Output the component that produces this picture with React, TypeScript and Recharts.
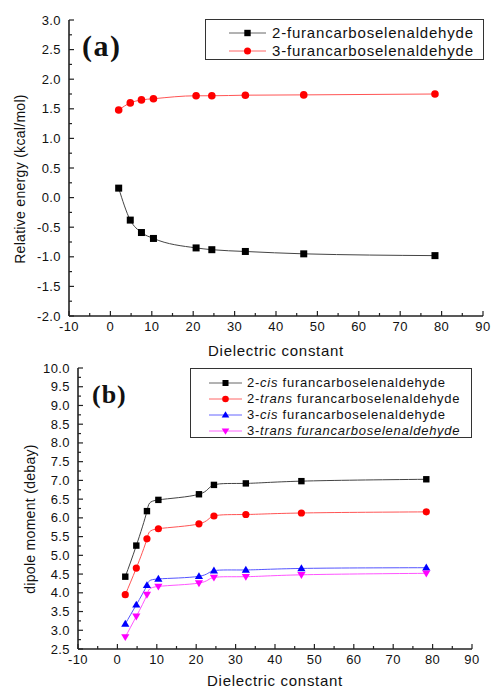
import React from "react";
import { LineChart, Line, XAxis, YAxis } from "recharts";

document.body.style.margin = "0";

// dielectric constants of the solvents (x)
const dielectric = [2.0, 4.8, 7.5, 10.4, 20.7, 24.5, 32.6, 46.7, 78.4];

// panel (a) relative energy, kcal/mol
const energy2 = [0.16, -0.38, -0.59, -0.69, -0.85, -0.88, -0.91, -0.95, -0.98];
const energy3 = [1.48, 1.6, 1.65, 1.67, 1.72, 1.72, 1.73, 1.735, 1.75];

// panel (b) dipole moment, debye
const dip2cis = [4.43, 5.26, 6.18, 6.48, 6.63, 6.88, 6.92, 6.98, 7.03];
const dip2trans = [3.95, 4.66, 5.44, 5.71, 5.84, 6.05, 6.09, 6.13, 6.16];
const dip3cis = [3.17, 3.68, 4.2, 4.37, 4.44, 4.59, 4.61, 4.65, 4.67];
const dip3trans = [2.82, 3.37, 3.95, 4.17, 4.26, 4.41, 4.43, 4.48, 4.52];

const xMajor = [-10, 0, 10, 20, 30, 40, 50, 60, 70, 80, 90];
const xTicks = [-10, -5, 0, 5, 10, 15, 20, 25, 30, 35, 40, 45, 50, 55, 60, 65, 70, 75, 80, 85, 90];
const yMajorA = [-2, -1.5, -1, -0.5, 0, 0.5, 1, 1.5, 2, 2.5, 3];
const yTicksA = [-2, -1.75, -1.5, -1.25, -1, -0.75, -0.5, -0.25, 0, 0.25, 0.5, 0.75, 1, 1.25, 1.5, 1.75, 2, 2.25, 2.5, 2.75, 3];
const yMajorB = [2.5, 3, 3.5, 4, 4.5, 5, 5.5, 6, 6.5, 7, 7.5, 8, 8.5, 9, 9.5, 10];
const yTicksB = [2.5, 2.75, 3, 3.25, 3.5, 3.75, 4, 4.25, 4.5, 4.75, 5, 5.25, 5.5, 5.75, 6, 6.25, 6.5, 6.75, 7, 7.25, 7.5, 7.75, 8, 8.25, 8.5, 8.75, 9, 9.25, 9.5, 9.75, 10];

const dataA = dielectric.map((x, i) => ({ x, e2: energy2[i], e3: energy3[i] }));
const dataB = dielectric.map((x, i) => ({
  x,
  c2: dip2cis[i],
  t2: dip2trans[i],
  c3: dip3cis[i],
  t3: dip3trans[i],
}));

const FONT = "'Liberation Sans', Arial, sans-serif";
const AXIS = "#222";
const TICK_FONT = 13;

function Marker({ shape, cx, cy, color, s = 3.5 }: any) {
  if (cx == null || cy == null) return null;
  if (shape === "square")
    return <rect x={cx - s} y={cy - s} width={2 * s} height={2 * s} fill={color} />;
  if (shape === "circle") return <circle cx={cx} cy={cy} r={s + 0.3} fill={color} />;
  if (shape === "up")
    return (
      <polygon
        points={`${cx},${cy - s - 0.8} ${cx - s - 0.8},${cy + s - 0.5} ${cx + s + 0.8},${cy + s - 0.5}`}
        fill={color}
      />
    );
  return (
    <polygon
      points={`${cx},${cy + s + 0.8} ${cx - s - 0.8},${cy - s + 0.5} ${cx + s + 0.8},${cy - s + 0.5}`}
      fill={color}
    />
  );
}

const dotFn = (shape: string, color: string, s: number) => (p: any) =>
  <Marker key={`d-${p.index}`} shape={shape} cx={p.cx} cy={p.cy} color={color} s={s} />;

function makeTick(side: string, major: number[], fmt: (v: number) => string) {
  return (p: any) => {
    const { x, y, payload } = p;
    const v = payload.value;
    const isMajor = major.some((m) => Math.abs(m - v) < 1e-6);
    const len = isMajor ? 5 : 3;
    if (side === "bottom")
      return (
        <g>
          <line x1={x} x2={x} y1={y} y2={y - len} stroke={AXIS} strokeWidth={1.2} />
          {isMajor && (
            <text x={x} y={y + 15} textAnchor="middle" fontSize={TICK_FONT} fontFamily={FONT} fill="#111" letterSpacing={0.4}>
              {fmt(v)}
            </text>
          )}
        </g>
      );
    if (side === "top")
      return <line x1={x} x2={x} y1={y} y2={y + len} stroke={AXIS} strokeWidth={1.2} />;
    if (side === "left")
      return (
        <g>
          <line x1={x} x2={x + len} y1={y} y2={y} stroke={AXIS} strokeWidth={1.2} />
          {isMajor && (
            <text x={x - 8} y={y + 4.5} textAnchor="end" fontSize={TICK_FONT} fontFamily={FONT} fill="#111" letterSpacing={0.4}>
              {fmt(v)}
            </text>
          )}
        </g>
      );
    return <line x1={x} x2={x - len} y1={y} y2={y} stroke={AXIS} strokeWidth={1.2} />;
  };
}

const fmtX = (v: number) => String(v);
const fmtY = (v: number) => v.toFixed(1);

function Frame({ yDomain, yTicks, yMajor, yWidth, xHeight }: any) {
  const axisLine = { stroke: AXIS, strokeWidth: 1.6 };
  return [
    <XAxis
      key="xb"
      dataKey="x"
      type="number"
      height={xHeight}
      domain={[-10, 90]}
      ticks={xTicks}
      interval={0}
      tickSize={0}
      tickMargin={0}
      tickLine={false}
      axisLine={axisLine}
      tick={makeTick("bottom", xMajor, fmtX)}
      allowDataOverflow
    />,
    <XAxis
      key="xt"
      xAxisId="top"
      orientation="top"
      dataKey="x"
      type="number"
      height={0}
      domain={[-10, 90]}
      ticks={xTicks}
      interval={0}
      tickSize={0}
      tickMargin={0}
      tickLine={false}
      axisLine={axisLine}
      tick={makeTick("top", xMajor, fmtX)}
      allowDataOverflow
    />,
    <YAxis
      key="yl"
      type="number"
      width={yWidth}
      domain={yDomain}
      ticks={yTicks}
      interval={0}
      tickSize={0}
      tickMargin={0}
      tickLine={false}
      axisLine={axisLine}
      tick={makeTick("left", yMajor, fmtY)}
      allowDataOverflow
    />,
    <YAxis
      key="yr"
      yAxisId="right"
      orientation="right"
      type="number"
      width={0}
      domain={yDomain}
      ticks={yTicks}
      interval={0}
      tickSize={0}
      tickMargin={0}
      tickLine={false}
      axisLine={axisLine}
      tick={makeTick("right", yMajor, fmtY)}
      allowDataOverflow
    />,
  ];
}

const abs = (left: number, top: number, extra: React.CSSProperties = {}): React.CSSProperties => ({
  position: "absolute",
  left,
  top,
  whiteSpace: "nowrap",
  fontFamily: FONT,
  color: "#111",
  ...extra,
});

function LegendRow({ shape, line, color, y, x0, x1, tx, s, size, ls, children }: any) {
  return (
    <div style={abs(0, y - 10, { height: 20, width: 300 })}>
      <svg width={x1 + 2} height={20} style={{ position: "absolute", left: 0, top: 0 }}>
        <line x1={x0} x2={x1} y1={10} y2={10} stroke={line} strokeWidth={1} />
        <Marker shape={shape} cx={(x0 + x1) / 2} cy={10} color={color} s={s} />
      </svg>
      <div
        style={{
          position: "absolute",
          left: tx,
          top: 0,
          lineHeight: "20px",
          fontSize: size,
          fontFamily: FONT,
          letterSpacing: ls,
        }}
      >
        {children}
      </div>
    </div>
  );
}

export default function App() {
  return (
    <div style={{ position: "relative", width: 491, height: 688, background: "#fff", overflow: "hidden" }}>
      {/* panel (a) */}
      <div style={{ position: "absolute", left: 0, top: 0 }}>
        <LineChart width={491} height={362} data={dataA} margin={{ top: 20, right: 8, bottom: 0, left: 0 }}>
          {Frame({ yDomain: [-2, 3], yTicks: yTicksA, yMajor: yMajorA, yWidth: 69, xHeight: 46 })}
          <Line
            type="monotone"
            dataKey="e2"
            stroke="#444"
            strokeWidth={1}
            dot={dotFn("square", "#000", 3.5)}
            isAnimationActive={false}
          />
          <Line
            type="monotone"
            dataKey="e3"
            stroke="#f55"
            strokeWidth={1}
            dot={dotFn("circle", "#f00", 3.5)}
            isAnimationActive={false}
          />
        </LineChart>
      </div>

      {/* panel (b) */}
      <div style={{ position: "absolute", left: 0, top: 362 }}>
        <LineChart width={491} height={326} data={dataB} margin={{ top: 6, right: 19, bottom: 0, left: 0 }}>
          {Frame({ yDomain: [2.5, 10], yTicks: yTicksB, yMajor: yMajorB, yWidth: 78, xHeight: 39 })}
          <Line type="natural" dataKey="c2" stroke="#444" strokeWidth={1} dot={dotFn("square", "#000", 3.2)} isAnimationActive={false} />
          <Line type="natural" dataKey="t2" stroke="#f55" strokeWidth={1} dot={dotFn("circle", "#f00", 3.3)} isAnimationActive={false} />
          <Line type="natural" dataKey="c3" stroke="#55f" strokeWidth={1} dot={dotFn("up", "#00f", 3.3)} isAnimationActive={false} />
          <Line type="natural" dataKey="t3" stroke="#f5f" strokeWidth={1} dot={dotFn("down", "#f0f", 3.3)} isAnimationActive={false} />
        </LineChart>
      </div>

      {/* axis titles */}
      <div style={abs(20, 179, { fontSize: 14, letterSpacing: 0.3, transform: "translate(-50%,-50%) rotate(-90deg)" })}>
        Relative energy (kcal/mol)
      </div>
      <div style={abs(276, 350, { fontSize: 15, letterSpacing: 0.7, transform: "translate(-50%,-50%)" })}>
        Dielectric constant
      </div>
      <div style={abs(30, 519, { fontSize: 14, letterSpacing: 0.3, transform: "translate(-50%,-50%) rotate(-90deg)" })}>
        dipole moment (debay)
      </div>
      <div style={abs(275, 680, { fontSize: 15, letterSpacing: 0.7, transform: "translate(-50%,-50%)" })}>
        Dielectric constant
      </div>

      {/* panel letters */}
      <div
        style={abs(82, 28, {
          fontSize: 30,
          fontWeight: "bold",
          letterSpacing: 1.5,
          fontFamily: "'Liberation Serif', 'Times New Roman', serif",
          lineHeight: "36px",
        })}
      >
        (a)
      </div>
      <div
        style={abs(92, 380, {
          fontSize: 26,
          fontWeight: "bold",
          letterSpacing: 1,
          fontFamily: "'Liberation Serif', 'Times New Roman', serif",
          lineHeight: "30px",
        })}
      >
        (b)
      </div>

      {/* legend (a) */}
      <div style={abs(205, 19, { width: 277, height: 39, border: "1px solid #333", background: "#fff" })}>
        <LegendRow shape="square" line="#666" color="#000" y={13} x0={23} x1={60} tx={66} s={3.2} size={15} ls={0.8}>
          2-furancarboselenaldehyde
        </LegendRow>
        <LegendRow shape="circle" line="#f66" color="#f00" y={31} x0={23} x1={60} tx={66} s={3.2} size={15} ls={0.8}>
          3-furancarboselenaldehyde
        </LegendRow>
      </div>

      {/* legend (b) */}
      <div style={abs(190, 368, { width: 280, height: 68, border: "1px solid #333", background: "#fff" })}>
        <LegendRow shape="square" line="#666" color="#000" y={14} x0={18} x1={51} tx={56} s={3} size={13} ls={0.75}>
          2-<i>cis</i> furancarboselenaldehyde
        </LegendRow>
        <LegendRow shape="circle" line="#f66" color="#f00" y={30} x0={18} x1={51} tx={56} s={3} size={13} ls={0.75}>
          2-<i>trans</i> furancarboselenaldehyde
        </LegendRow>
        <LegendRow shape="up" line="#66f" color="#00f" y={46} x0={18} x1={51} tx={56} s={3} size={13} ls={0.75}>
          3-<i>cis</i> furancarboselenaldehyde
        </LegendRow>
        <LegendRow shape="down" line="#f6f" color="#f0f" y={62} x0={18} x1={51} tx={56} s={3} size={13} ls={0.75}>
          3-<i>trans furancarboselenaldehyde</i>
        </LegendRow>
      </div>
    </div>
  );
}
